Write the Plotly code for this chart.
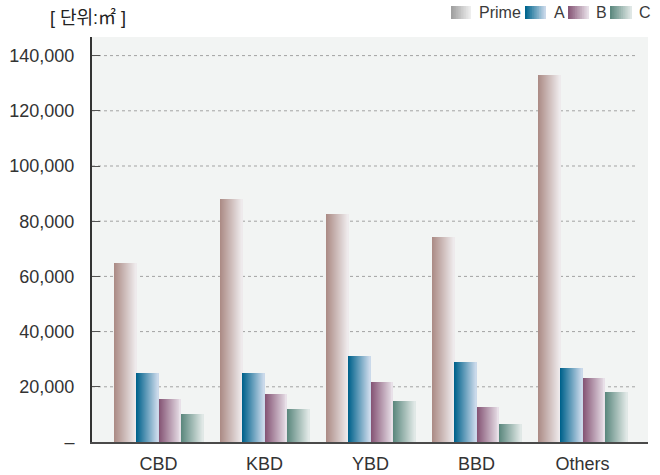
import plotly.graph_objects as go

# ---- data -------------------------------------------------------------
districts = ["CBD", "KBD", "YBD", "BBD", "Others"]
grades = ["Prime", "A", "B", "C"]
prime_vals = [65000, 88000, 82700, 74400, 133100]
a_vals = [25000, 25000, 31300, 29000, 26900]
b_vals = [15600, 17500, 21700, 12700, 23300]
c_vals = [10100, 12000, 14900, 6600, 18100]
y_tick_vals = [0, 20000, 40000, 60000, 80000, 100000, 120000, 140000]
y_tick_text = ["–", "20,000", "40,000", "60,000", "80,000", "100,000", "120,000", "140,000"]
unit_label = "[ 단위:㎡ ]"

# ---- styling ----------------------------------------------------------
# left (dark) and right (light) ends of each bar's horizontal gradient
bar_grad = {
    "Prime": ((172, 140, 134), (238, 234, 236)),
    "A": ((0, 98, 140), (202, 217, 234)),
    "B": ((134, 86, 118), (232, 224, 232)),
    "C": ((92, 136, 126), (224, 232, 230)),
}
legend_grad = {
    "Prime": ((160, 160, 160), (238, 238, 238)),
    "A": ((0, 102, 142), (202, 217, 234)),
    "B": ((136, 88, 120), (232, 224, 232)),
    "C": ((94, 138, 128), (224, 232, 230)),
}
FONT = "Liberation Sans, Arial, sans-serif"
W, H = 660, 475
ML, MR, MT, MB = 92, 12, 37, 33
PW, PH = W - ML - MR, H - MT - MB
BAR_W = 0.21
STEPS = 22
PX_PER_CAT = 106
CAT0_PX = 158.5  # centre of first category, in px from the left edge

def mix(c0, c1, t):
    return "rgb(%d,%d,%d)" % tuple(round(a + (b - a) * t) for a, b in zip(c0, c1))

def px_x(px):
    return (px - ML) / PW

def px_y(py):
    return (H - MB - py) / PH

series = dict(zip(grades, [prime_vals, a_vals, b_vals, c_vals]))

fig = go.Figure()

# each bar is built from overlapping slices, stepping from dark to light,
# so it shows a smooth left-to-right gradient
for gi, g in enumerate(grades):
    c0, c1 = bar_grad[g]
    left = -2 * BAR_W + gi * BAR_W
    for k in range(STEPS):
        t = k / (STEPS - 1)
        fig.add_trace(go.Bar(
            x=districts, y=series[g],
            offset=left + k * BAR_W / STEPS,
            width=BAR_W * (1 - k / STEPS),
            marker=dict(color=mix(c0, c1, t), line=dict(width=0)),
            showlegend=False, hoverinfo="skip" if k else "x+y", name=g,
        ))

shapes = []
# dotted horizontal gridlines
for v in y_tick_vals[1:]:
    shapes.append(dict(type="line", xref="paper", yref="y", x0=0, x1=px_x(636),
                       y0=v, y1=v, layer="below",
                       line=dict(color="#a3a3a3", width=1, dash="dot")))

# legend: gradient swatches and labels
legend_items = [("Prime", 451, 471, 477), ("A", 525, 546, 552),
                ("B", 568, 589, 594), ("C", 610, 632, 637)]
annotations = []
for g, sx0, sx1, tx in legend_items:
    c0, c1 = legend_grad[g]
    n = 12
    for k in range(n):
        t = k / (n - 1)
        shapes.append(dict(type="rect", xref="paper", yref="paper",
                           x0=px_x(sx0 + (sx1 - sx0) * k / n), x1=px_x(sx1),
                           y0=px_y(19), y1=px_y(6),
                           fillcolor=mix(c0, c1, t), line=dict(width=0)))
    annotations.append(dict(text=g, xref="paper", yref="paper", x=px_x(tx), y=px_y(13),
                            xanchor="left", yanchor="middle", showarrow=False,
                            font=dict(family=FONT, size=16, color="#3a3a3a")))

annotations.append(dict(text=unit_label, xref="paper", yref="paper", x=px_x(48), y=px_y(18),
                        xanchor="left", yanchor="middle", showarrow=False,
                        font=dict(family="Liberation Sans, Noto Sans CJK KR", size=18,
                                  color="#222222")))

x_lo = -(CAT0_PX - ML) / PX_PER_CAT
x_hi = x_lo + PW / PX_PER_CAT

fig.update_layout(
    width=W, height=H,
    margin=dict(l=ML, r=MR, t=MT, b=MB, pad=0, autoexpand=False),
    paper_bgcolor="white", plot_bgcolor="#f2f4f3",
    barmode="overlay", bargap=0,
    shapes=shapes, annotations=annotations,
    showlegend=False,
    xaxis=dict(type="category", range=[x_lo, x_hi], showgrid=False, zeroline=False,
               showline=True, linecolor="#4a4a4a", linewidth=2, ticks="",
               ticklabelstandoff=4, automargin=False,
               tickfont=dict(family=FONT, size=18, color="#333333")),
    yaxis=dict(range=[0, PH / 2.76 * 1000], tickvals=y_tick_vals, ticktext=y_tick_text,
               showgrid=False, zeroline=False, showline=True, linecolor="#333333",
               linewidth=2, ticks="inside", ticklen=8, tickwidth=1, tickcolor="#555555",
               ticklabelstandoff=12, automargin=False,
               tickfont=dict(family=FONT, size=18, color="#333333")),
)

fig.write_html("out.html")
